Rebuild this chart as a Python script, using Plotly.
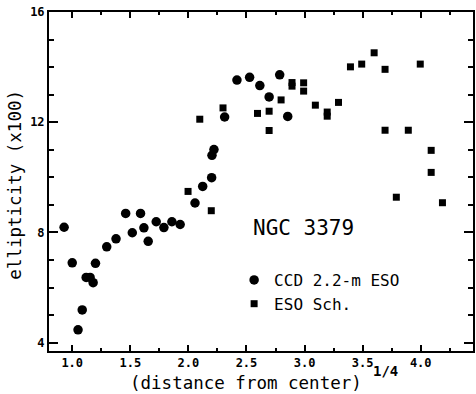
import plotly.graph_objects as go

# --- data ---
ccd_x = [0.93, 1.00, 1.05, 1.086, 1.12, 1.154, 1.18, 1.20, 1.297, 1.377, 1.46, 1.517,
         1.588, 1.617, 1.654, 1.723, 1.789, 1.858, 1.929, 2.057, 2.123, 2.20, 2.203,
         2.22, 2.312, 2.418, 2.527, 2.615, 2.695, 2.786, 2.855]
ccd_y = [8.19, 6.90, 4.47, 5.19, 6.37, 6.37, 6.18, 6.88, 7.48, 7.77, 8.69, 7.99,
         8.69, 8.17, 7.68, 8.39, 8.18, 8.39, 8.29, 9.07, 9.67, 9.99, 10.80,
         11.01, 12.19, 13.53, 13.63, 13.33, 12.92, 13.72, 12.21]

sch_x = [1.997, 2.098, 2.197, 2.298, 2.595, 2.695, 2.695, 2.798, 2.892, 2.892, 2.992,
         2.992, 3.093, 3.195, 3.195, 3.292, 3.395, 3.492, 3.599, 3.693, 3.693, 3.79,
         3.893, 3.996, 4.09, 4.09, 4.187]
sch_y = [9.49, 12.11, 8.79, 12.52, 12.32, 12.40, 11.70, 12.81, 13.44, 13.31, 13.43,
         13.13, 12.62, 12.37, 12.22, 12.72, 14.01, 14.11, 14.52, 13.92, 11.71, 9.28,
         11.71, 14.11, 10.98, 10.18, 9.08]

series_names = ["CCD 2.2-m ESO", "ESO Sch."]
x_tickvals = [1.0, 1.5, 2.0, 2.5, 3.0, 3.5, 4.0]
x_ticktext = ["1.0", "1.5", "2.0", "2.5", "3.0", "3.5", "4.0"]
y_tickvals = [4, 8, 12, 16]
y_ticktext = ["4", "8", "12", "16"]

FONT = "DejaVu Sans Mono"

fig = go.Figure()
fig.add_trace(go.Scatter(x=ccd_x, y=ccd_y, mode="markers", name=series_names[0],
                         marker=dict(symbol="circle", size=9.5, color="black",
                                     line=dict(width=0))))
fig.add_trace(go.Scatter(x=sch_x, y=sch_y, mode="markers", name=series_names[1],
                         marker=dict(symbol="square", size=7, color="black",
                                     line=dict(width=0))))

axis_common = dict(showline=True, linecolor="black", linewidth=2, mirror="ticks",
                   ticks="inside", tickcolor="black", tickwidth=1.5,
                   showgrid=False, zeroline=False,
                   tickfont=dict(family=FONT, size=12, color="black", weight="bold"))

fig.update_xaxes(range=[0.8, 4.45], tickvals=x_tickvals, ticktext=x_ticktext,
                 ticklen=6,
                 minor=dict(dtick=0.25, tick0=0, ticks="inside", ticklen=3,
                            tickwidth=1.5, tickcolor="black", showgrid=False),
                 **axis_common)
fig.update_yaxes(range=[3.7, 16], tickvals=y_tickvals, ticktext=y_ticktext,
                 ticklen=9,
                 minor=dict(dtick=1, tick0=0, ticks="inside", ticklen=5,
                            tickwidth=1.5, tickcolor="black", showgrid=False),
                 **axis_common)

fig.add_annotation(text="NGC 3379", x=0.4758, y=0.3614, xref="paper", yref="paper",
                   xanchor="left", yanchor="middle", showarrow=False,
                   font=dict(family=FONT, size=21, color="black"))
fig.add_annotation(text="ellipticity (x100)", x=-0.0798, y=0.4912, xref="paper",
                   yref="paper", xanchor="center", yanchor="middle", textangle=-90,
                   showarrow=False, font=dict(family=FONT, size=17.5, color="black"))
fig.add_annotation(text="(distance from center)", x=0.186, y=-0.0944, xref="paper",
                   yref="paper", xanchor="left", yanchor="middle", showarrow=False,
                   font=dict(family=FONT, size=17.5, color="black"))
fig.add_annotation(text="1/4", x=0.7599, y=-0.0599, xref="paper", yref="paper",
                   xanchor="left", yanchor="middle", showarrow=False,
                   font=dict(family=FONT, size=14, color="black", weight="bold"))

fig.update_layout(
    width=476, height=394,
    margin=dict(l=49, r=1, t=12, b=43, pad=0),
    paper_bgcolor="white", plot_bgcolor="white",
    showlegend=True,
    legend=dict(x=0.4366, y=0.2596, xanchor="left", yanchor="top",
                bgcolor="rgba(0,0,0,0)", borderwidth=0,
                font=dict(family=FONT, size=16, color="black"),
                itemsizing="trace", tracegroupgap=0),
)

fig.write_html("out.html")
